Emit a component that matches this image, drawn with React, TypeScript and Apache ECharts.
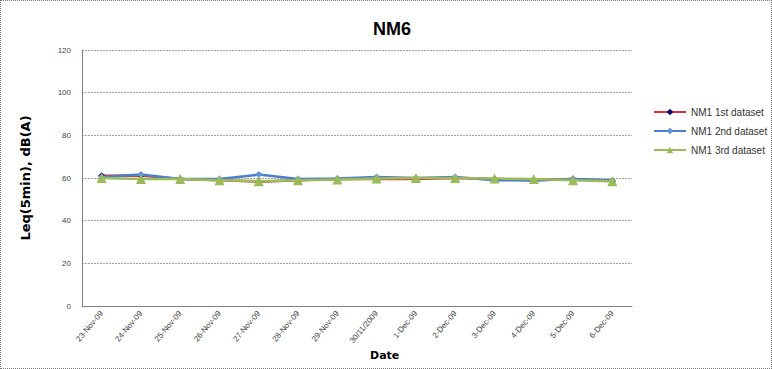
import React, { useEffect, useRef } from "react";
import * as echarts from "echarts";

const categories = [
  "23-Nov-09", "24-Nov-09", "25-Nov-09", "26-Nov-09", "27-Nov-09", "28-Nov-09", "29-Nov-09",
  "30/11/2009", "1-Dec-09", "2-Dec-09", "3-Dec-09", "4-Dec-09", "5-Dec-09", "6-Dec-09",
];
const dataset1 = [61, 61.2, 59.5, 59, 58.3, 59, 59.5, 59.5, 59.5, 60, 59.5, 59, 59.5, 58.5];
const dataset2 = [60.5, 61.6, 59.5, 59.5, 61.6, 59.5, 59.8, 60.5, 60, 60.5, 59, 58.8, 59.5, 59];
const dataset3 = [60, 59.5, 59.5, 59, 58.5, 59, 59.3, 59.8, 60, 60, 59.8, 59.5, 59, 58.5];
const seriesNames = ["NM1 1st dataset", "NM1 2nd dataset", "NM1 3rd dataset"];

export default function App() {
  const ref = useRef<HTMLDivElement>(null);
  useEffect(() => {
    if (!ref.current) return;
    const chart = echarts.init(ref.current, null, { renderer: "svg" });
    chart.setOption({
      animation: false,
      backgroundColor: "#ffffff",
      title: {
        text: "NM6",
        left: 386,
        textAlign: "center",
        top: 14,
        textStyle: { fontFamily: "Liberation Sans", fontWeight: "bold", fontSize: 18, color: "#000" },
      },
      grid: { left: 81, right: 139, top: 49, bottom: 62 },
      legend: {
        orient: "vertical",
        left: 647,
        top: 101,
        itemWidth: 32,
        itemHeight: 8,
        itemGap: 9,
        textStyle: { fontFamily: "Liberation Sans", fontSize: 10, color: "#333" },
        data: seriesNames,
      },
      xAxis: {
        type: "category",
        data: categories,
        boundaryGap: true,
        axisLine: { lineStyle: { color: "#808080", width: 1 } },
        axisTick: { show: false },
        axisLabel: {
          rotate: 50,
          interval: 0,
          fontSize: 8,
          fontFamily: "Liberation Sans",
          color: "#444",
          margin: 6,
        },
      },
      yAxis: {
        type: "value",
        min: 0,
        max: 120,
        interval: 20,
        name: "Leq(5min), dB(A)",
        nameLocation: "middle",
        nameGap: 50,
        nameTextStyle: { fontFamily: "DejaVu Sans", fontWeight: "bold", fontSize: 13, color: "#000" },
        axisLine: { show: true, lineStyle: { color: "#808080", width: 1 } },
        axisTick: { show: false },
        axisLabel: { fontSize: 8, fontFamily: "Liberation Sans", color: "#444", margin: 11 },
        splitLine: { lineStyle: { color: "#a0a0a0", type: [2, 1], width: 1 } },
      },
      graphic: [
        {
          type: "text",
          left: 369,
          top: 349,
          style: { text: "Date", fill: "#000", font: "bold 11px 'DejaVu Sans'", textAlign: "center" },
        },
      ],
      series: [
        {
          name: seriesNames[0],
          type: "line",
          data: dataset1,
          symbol: "diamond",
          symbolSize: 7,
          lineStyle: { color: "#e03030", width: 2.5 },
          itemStyle: { color: "#000080" },
          z: 2,
        },
        {
          name: seriesNames[1],
          type: "line",
          data: dataset2,
          symbol: "diamond",
          symbolSize: 7,
          lineStyle: { color: "#4a7fd0", width: 2.5 },
          itemStyle: { color: "#5b8fe0" },
          z: 3,
        },
        {
          name: seriesNames[2],
          type: "line",
          data: dataset3,
          symbol: "triangle",
          symbolSize: 10,
          lineStyle: { color: "#9bbb59", width: 2.5 },
          itemStyle: { color: "#9bbb59" },
          z: 4,
        },
      ],
    });
    return () => chart.dispose();
  }, []);
  return (
    <div
      ref={ref}
      style={{
        position: "fixed",
        left: 0,
        top: 0,
        width: 772,
        height: 369,
        boxSizing: "border-box",
        border: "1px dotted #777",
      }}
    />
  );
}
